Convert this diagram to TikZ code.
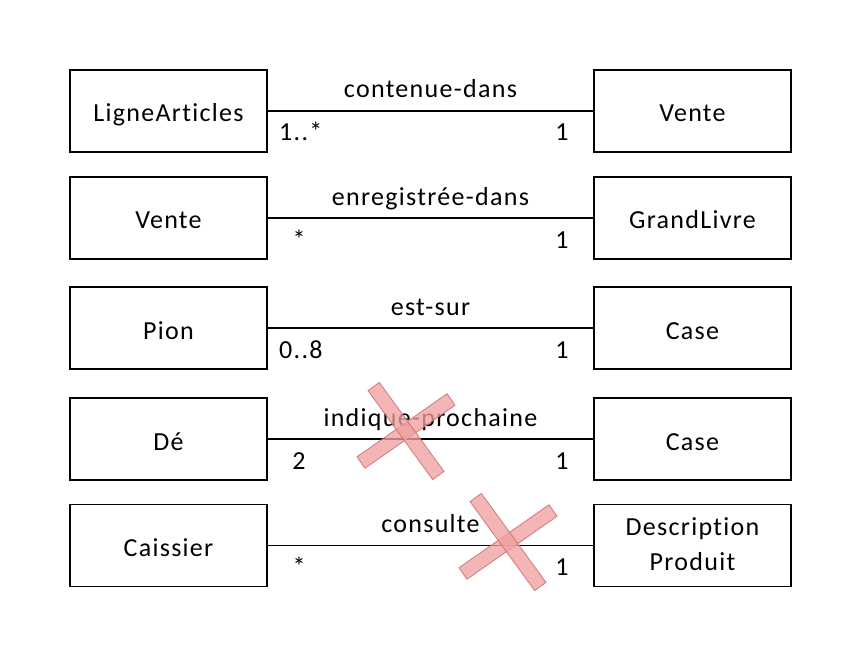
\documentclass[tikz,border=0pt]{standalone}
\usepackage{fontspec}
\usetikzlibrary{calc}
\setmainfont[LetterSpace=5,Ligatures=NoCommon]{Carlito}
\definecolor{xfill}{RGB}{240,160,160}
\definecolor{xedge}{RGB}{200,100,100}
\begin{document}
\begin{tikzpicture}[x=1pt,y=-1pt,
  cls/.style={draw,line width=1.6pt,minimum width=197pt,minimum height=82pt,inner sep=0pt,font=\fontsize{26}{35}\selectfont,align=center},
  cls1/.style={cls,text height=22pt,text depth=0pt},
  assoc/.style={line width=1.6pt},
  lbl/.style={font=\fontsize{26}{35}\selectfont,inner sep=0pt},
  crossbar/.style={fill=xfill,draw=xedge,line width=0.8pt,fill opacity=0.78,draw opacity=0.8}]
\useasboundingbox (0,0) rectangle (860,666);
% rows: y / left / right / label / mult-left anchor / mult-left x / mult-left text / name
\foreach \y/\l/\r/\lt/\an/\mx/\lm/\n in {111/LigneArticles/Vente/contenue-dans/base west/279/1..*/a,
  218/Vente/GrandLivre/enregistrée-dans/base/299/*/b,
  328/Pion/Case/est-sur/base west/279/0..8/c,
  439/Dé/Case/indique-prochaine/base/299/2/d}{
  \node[cls1] (L\n) at (168.5,\y) {\l};
  \node[cls1] (R\n) at (692.5,\y) {\r};
  \draw[assoc] (L\n) -- (R\n);
  \coordinate (C\n) at ($(L\n.east)!0.5!(R\n.west)$);
  \node[lbl,anchor=base] (T\n) at ([yshift=13pt]C\n) {\lt};
  \node[lbl,anchor=\an] (M\n) at (\mx,\y+30) {\lm};
  \node[lbl,anchor=base] (N\n) at (562,\y+30) {1};
}
\node[cls1] (Le) at (168.5,545.5) {Caissier};
\node[cls] (Re) at (692.5,545.5) {\raisebox{-4pt}{\begin{tabular}{@{}c@{}}Description\\Produit\end{tabular}}};
\draw[assoc] (Le) -- (Re);
\coordinate (Ce) at ($(Le.east)!0.5!(Re.west)$);
\node[lbl,anchor=base] (Te) at ([yshift=13pt]Ce) {consulte};
\node[lbl,anchor=base] (Me) at (299,575.5) {*};
\node[lbl,anchor=base] (Ne) at (562,575.5) {1};
% crosses
\foreach \cx/\cy in {406/431, 508/542}{
  \begin{scope}[shift={(\cx,\cy)}]
    \filldraw[crossbar,rotate=35] (-55,-7) rectangle (55,7);
    \filldraw[crossbar,rotate=-54] (-55,-7) rectangle (55,7);
  \end{scope}
}
\end{tikzpicture}
\end{document}
